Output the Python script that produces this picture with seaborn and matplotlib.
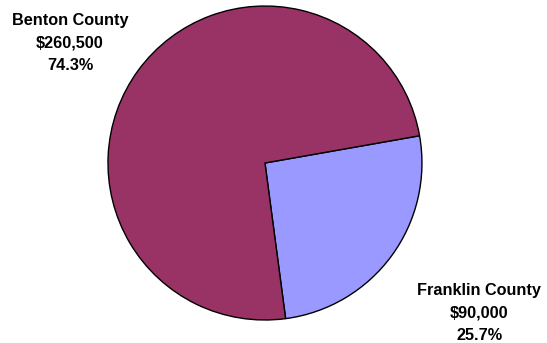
import matplotlib
matplotlib.use('Agg')
import matplotlib.pyplot as plt
import seaborn as sb

# Data
counties = ['Franklin County', 'Benton County']
amounts = [90000, 260500]
colors = ['#9999FF', '#993366']

sb.set_style('white')
plt.rcParams['font.family'] = ['Liberation Sans', 'DejaVu Sans']

fig = plt.figure(figsize=(5.47, 3.43), dpi=100)
ax = fig.add_axes([0.1974, 0.067, 0.574, 0.9155])

total = sum(amounts)
ax.pie(amounts, colors=colors, startangle=10, counterclock=False, radius=1,
       wedgeprops=dict(edgecolor='black', linewidth=1))
ax.set_xlim(-1, 1)
ax.set_ylim(-1, 1)
ax.set_aspect('equal')
ax.axis('off')

# Labels outside the pie (anchor = baseline of first line)
label_pos = {'Benton County': (-1.242, 0.879), 'Franklin County': (1.365, -0.841)}
line_pitch = 16.2  # points
for name, amt in zip(counties, amounts):
    pct = amt / total * 100
    lines = [name, f"${amt:,}", f"{pct:.1f}%"]
    for i, line in enumerate(lines):
        ax.annotate(line, xy=label_pos[name], xytext=(0, -i * line_pitch),
                    textcoords='offset points', ha='center', va='baseline',
                    fontsize=11.7, fontweight='bold', color='black',
                    annotation_clip=False)

fig.savefig('out.png', dpi=100, facecolor='white')
